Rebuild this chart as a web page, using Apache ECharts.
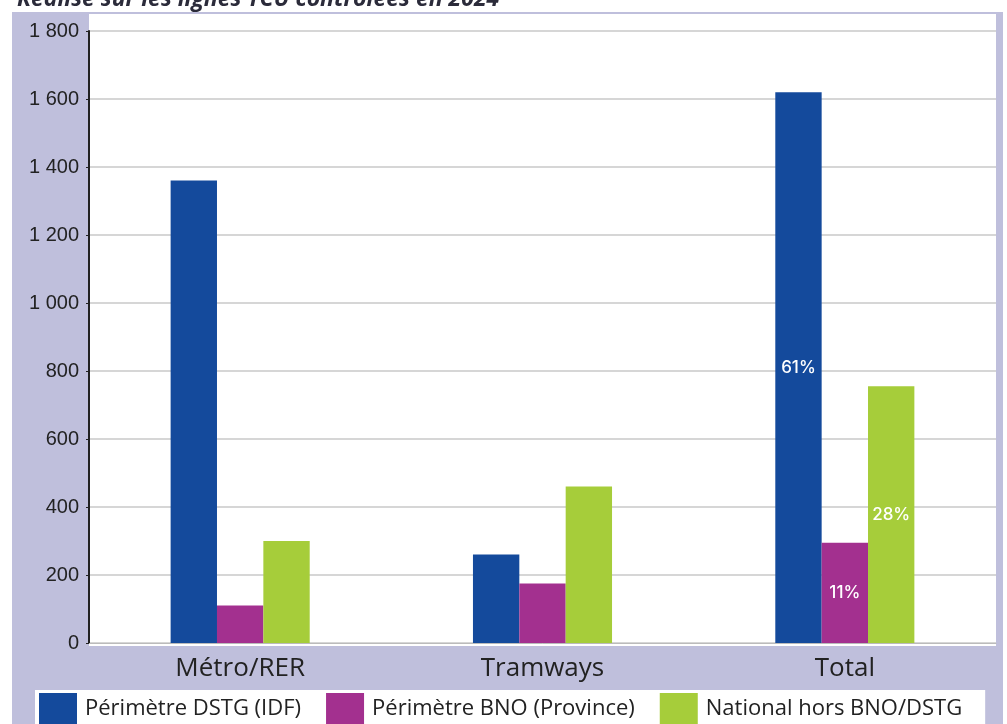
<!DOCTYPE html>
<html><head><meta charset="utf-8">
<script src="https://cdn.jsdelivr.net/npm/echarts@6/dist/echarts.min.js"></script>
<style>html,body{margin:0;padding:0;background:#fff}#c{width:1007px;height:724px}</style>
</head><body><div id="c"></div>
<script>
const categories = ['Métro/RER', 'Tramways', 'Total'];
const seriesNames = ['Périmètre DSTG (IDF)', 'Périmètre BNO (Province)', 'National hors BNO/DSTG'];
const dstg = [1360, 260, 1620];
const bno = [110, 175, 295];
const national = [300, 460, 755];
const totalShares = ['61%', '11%', '28%'];
const colors = ['#144a9c', '#a3308f', '#a6cd3a'];
const yTicks = [0, 200, 400, 600, 800, 1000, 1200, 1400, 1600, 1800];

const chart = echarts.init(document.getElementById('c'), null, {renderer: 'canvas'});
function shareLabel(idx) {
  return {
    show: true, position: 'inside', color: '#fff', fontSize: 17, fontWeight: 500, fontFamily: 'Inter',
    formatter: p => p.dataIndex === 2 ? totalShares[idx] : ''
  };
}
const vals = [dstg, bno, national];
chart.setOption({
  animation: false,
  title: {
    text: 'Réalisé sur les lignes TCU contrôlées en 2024',
    left: 12, top: -17,
    textStyle: {fontSize: 23, fontWeight: 'bold', fontStyle: 'italic', color: '#2b2b3a', fontFamily: 'Open Sans'}
  },
  graphic: [
    {type: 'rect', z: -10, shape: {x: 12, y: 12, width: 991, height: 712}, style: {fill: '#bfbfdc'}},
    {type: 'rect', z: -9, shape: {x: 89, y: 14, width: 907, height: 632}, style: {fill: '#ffffff'}}
  ],
  grid: {left: 89, right: 11, top: 31, bottom: 81, containLabel: false},
  legend: {
    data: seriesNames,
    left: 35, top: 690,
    backgroundColor: '#fff',
    padding: [3, 23, 3, 4],
    itemWidth: 38, itemHeight: 32, itemGap: 25,
    icon: 'rect',
    textStyle: {fontSize: 22, color: '#222', fontFamily: 'Open Sans', padding: [0, 0, 0, 3]}
  },
  xAxis: {
    type: 'category', data: categories,
    axisLine: {lineStyle: {color: '#bbbbbb', width: 1}},
    axisTick: {show: false},
    axisLabel: {fontSize: 26, color: '#222', fontFamily: 'Open Sans', margin: 13}
  },
  yAxis: {
    type: 'value', min: 0, max: 1800, interval: 200,
    axisLine: {show: true, lineStyle: {color: '#222', width: 2}},
    axisTick: {show: true, length: 3, lineStyle: {color: '#222'}},
    axisLabel: {fontSize: 20, color: '#222', fontFamily: 'Liberation Sans', margin: 10,
      formatter: v => yTicks.includes(v) ? String(v).replace(/\B(?=(\d{3})+(?!\d))/g, ' ') : ''},
    splitLine: {lineStyle: {color: '#c8c8c8', width: 1.5}}
  },
  series: seriesNames.map((n, i) => ({
    name: n, type: 'bar', data: vals[i],
    itemStyle: {color: colors[i]},
    barGap: '0%', barCategoryGap: '54%',
    label: shareLabel(i)
  }))
});
</script></body></html>
